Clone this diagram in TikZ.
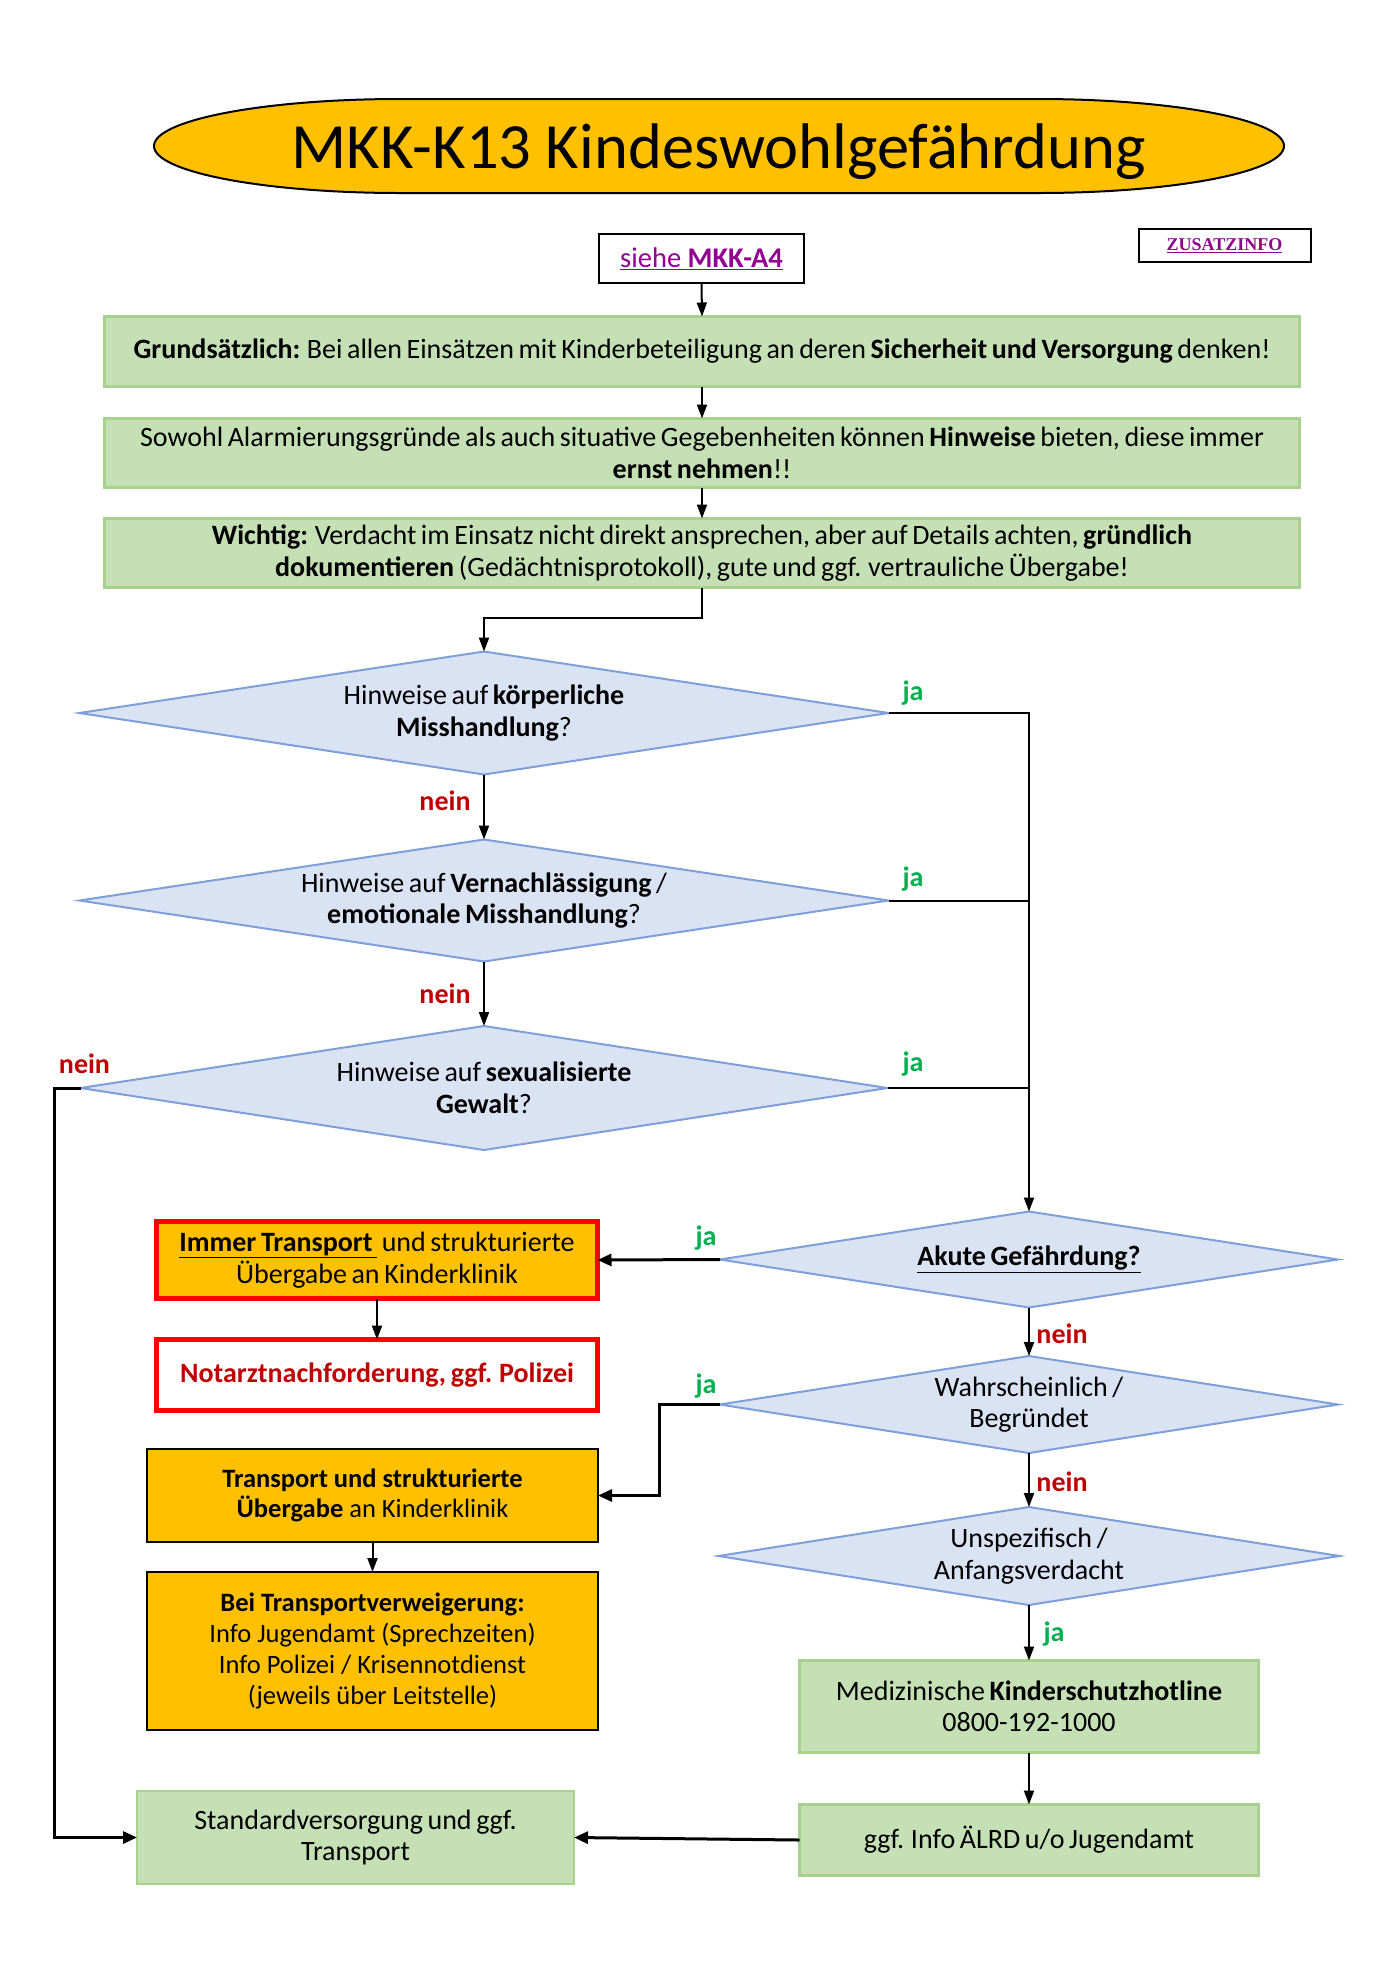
\documentclass[tikz,border=0pt]{standalone}
\usepackage{fontspec}
\usepackage{graphicx}
\setmainfont{Carlito}
\newfontfamily\timesf{Liberation Serif}
\usetikzlibrary{shapes.geometric,arrows.meta,calc}
\definecolor{gfill}{HTML}{C5E0B4}
\definecolor{gline}{HTML}{A9D18E}
\definecolor{dfill}{HTML}{DAE3F3}
\definecolor{dline}{HTML}{7F9FDA}
\definecolor{orng}{HTML}{FFC000}
\definecolor{dred}{HTML}{C00000}
\definecolor{jagreen}{HTML}{00B050}
\definecolor{lnk}{HTML}{920092}
\newcommand{\tightsp}{\spaceskip 4.6pt plus 1pt minus 1pt\relax}
\newcommand{\bodyfont}{\fontsize{28}{31.5}\selectfont\tightsp}
\begin{document}
\begin{tikzpicture}[x=1pt,y=-1pt,
 every node/.style={inner sep=0pt, outer sep=0pt, align=center, font=\bodyfont},
 gbox/.style={rectangle, fill=gfill, draw=gline, line width=2.5pt},
 obox/.style={rectangle, fill=orng, draw=black, line width=2pt,
   font=\fontsize{26.5}{30.7}\selectfont},
 rbox/.style={rectangle, draw=red, line width=5pt},
 wbox/.style={rectangle, fill=white, draw=black, line width=2pt},
 dia/.style={diamond, fill=dfill, draw=dline, line width=2pt},
 conn/.style={line width=2pt, -{Triangle[length=14pt,width=10pt]}},
 thickconn/.style={line width=3pt, -{Triangle[length=14pt,width=12pt]}},
 plainl/.style={line width=2pt},
 jal/.style={text=jagreen, font=\fontsize{28}{30}\selectfont\bfseries},
 neinl/.style={text=dred, font=\fontsize{28}{30}\selectfont\bfseries},
]
\useasboundingbox (0,0) rectangle (1400,1974);
\fill[white] (0,0) rectangle (1400,1974);

% title
\draw[fill=orng, line width=2pt] (400,99) -- (1038,99) arc[start angle=-90, end angle=90, x radius=246, y radius=47]
  -- (400,193) arc[start angle=90, end angle=270, x radius=246, y radius=47] -- cycle;
\node[anchor=base, font=\fontsize{64.5}{70}\selectfont] (title) at (718.5,168) {MKK-K13 Kindeswohlgefährdung};

% top boxes
\node[wbox, minimum width=205pt, minimum height=49pt, font=\fontsize{28.5}{31}\selectfont] (siehe) at (701.5,258.5)
  {\color{lnk}\underline{siehe \textbf{MKK-A4}}};
\node[wbox, minimum width=172pt, minimum height=33pt, font=\timesf\bfseries\fontsize{18}{20}\selectfont] (zusatz) at (1224.5,245.8)
  {\color{lnk}\underline{ZUSATZINFO}};

\node[gbox, minimum width=1195pt, minimum height=70pt] (g1) at (702,351.5)
  {\textbf{Grundsätzlich:} Bei allen Einsätzen mit Kinderbeteiligung an deren \textbf{Sicherheit und Versorgung} denken!};
\node[gbox, minimum width=1195pt, minimum height=69pt] (g2) at (702,453)
  {Sowohl Alarmierungsgründe als auch situative Gegebenheiten können \textbf{Hinweise} bieten, diese immer\\ \textbf{ernst nehmen}!!};
\node[gbox, minimum width=1195pt, minimum height=69pt] (g3) at (702,553)
  {\textbf{Wichtig:} Verdacht im Einsatz nicht direkt ansprechen, aber auf Details achten, \textbf{gründlich}\\ \textbf{dokumentieren} (Gedächtnisprotokoll), gute und ggf. vertrauliche Übergabe!};

% left diamonds
\node[dia, aspect=6.55, minimum width=809pt, minimum height=123pt] (d1) at (484,713)
  {Hinweise auf \textbf{körperliche}\\ \textbf{Misshandlung}?};
\node[dia, aspect=6.6, minimum width=809pt, minimum height=122pt] (d2) at (484,900.5)
  {Hinweise auf \textbf{Vernachlässigung} /\\ \textbf{emotionale Misshandlung}?};
\node[dia, aspect=6.5, minimum width=807pt, minimum height=124pt] (d3) at (484,1088)
  {Hinweise auf \textbf{sexualisierte}\\ \textbf{Gewalt}?};

% right diamonds
\node[dia, aspect=6.4, minimum width=618pt, minimum height=96pt] (akute) at (1029,1259.5)
  {\textbf{\underline{Akute Gefährdung?}}};
\node[dia, aspect=6.4, minimum width=618pt, minimum height=97pt] (wahr) at (1029,1404.5)
  {Wahrscheinlich /\\ Begründet};
\node[dia, aspect=6.4, minimum width=621pt, minimum height=98pt] (unspez) at (1029,1556)
  {Unspezifisch /\\ Anfangsverdacht};

% left action boxes
\node[rbox, fill=orng, minimum width=441pt, minimum height=77pt] (immer) at (377,1260)
  {\textbf{\underline{Immer Transport }} und strukturierte\\ Übergabe an Kinderklinik};
\node[rbox, fill=white, minimum width=441pt, minimum height=71pt] (notarzt) at (377,1375)
  {\color{dred}\textbf{Notarztnachforderung, ggf. Polizei}};
\node[obox, minimum width=451pt, minimum height=93pt] (transport) at (372.5,1495.5)
  {\textbf{Transport und strukturierte}\\ \textbf{Übergabe} an Kinderklinik};
\node[obox, minimum width=451pt, minimum height=158pt] (bei) at (372.5,1651)
  {\textbf{Bei Transportverweigerung:}\\ Info Jugendamt (Sprechzeiten)\\ Info Polizei / Krisennotdienst\\ (jeweils über Leitstelle)};

% bottom boxes
\node[gbox, minimum width=459pt, minimum height=92pt] (hotline) at (1029,1706.5)
  {Medizinische \textbf{Kinderschutzhotline}\\ 0800-192-1000};
\node[gbox, minimum width=459pt, minimum height=71pt] (aelrd) at (1029,1840)
  {ggf. Info ÄLRD u/o Jugendamt};
\node[gbox, minimum width=437pt, minimum height=93pt] (standard) at (355.5,1837.5)
  {Standardversorgung und ggf.\\ Transport};

% connectors
\draw[conn] (siehe.south) -- (g1.north);
\draw[conn] (g1.south) -- (g2.north);
\draw[conn] (g2.south) -- (g3.north);
\draw[conn] (g3.south) -- ++(0,30) -| (d1.north);
\draw[conn] (d1.south) -- (d2.north);
\draw[conn] (d2.south) -- (d3.north);
\draw[conn] (d1.east) -- (d1.east -| akute.north) -- (akute.north);
\draw[plainl] (d2.east) -- (d2.east -| akute.north);
\draw[plainl] (d3.east) -- (d3.east -| akute.north);
\draw[thickconn] (akute.west) -- (immer.east);
\draw[conn] (immer.south) -- (notarzt.north);
\draw[conn] (akute.south) -- (wahr.north);
\draw[thickconn] (wahr.west) -- ++(-61,0) |- (transport.east);
\draw[conn] (transport.south) -- (bei.north);
\draw[conn] (wahr.south) -- (unspez.north);
\draw[conn] (unspez.south) -- (hotline.north);
\draw[conn] (hotline.south) -- (aelrd.north);
\draw[thickconn] (aelrd.west) -- (standard.east);
\draw[thickconn] (d3.west) -- ++(-26,0) |- (standard.west);

% labels
\node[jal] (ja1) at (913,693) {ja};
\node[jal] (ja2) at (913,879) {ja};
\node[jal] (ja3) at (913,1064) {ja};
\node[neinl] (nein1) at (445,801) {nein};
\node[neinl] (nein2) at (445,994) {nein};
\node[neinl] (nein3) at (84.5,1064) {nein};
\node[jal] (ja4) at (706,1238) {ja};
\node[neinl] (nein4) at (1062,1334) {nein};
\node[jal] (ja5) at (706,1386) {ja};
\node[neinl] (nein5) at (1062,1482) {nein};
\node[jal] (ja6) at (1054,1634) {ja};
\end{tikzpicture}
\end{document}
